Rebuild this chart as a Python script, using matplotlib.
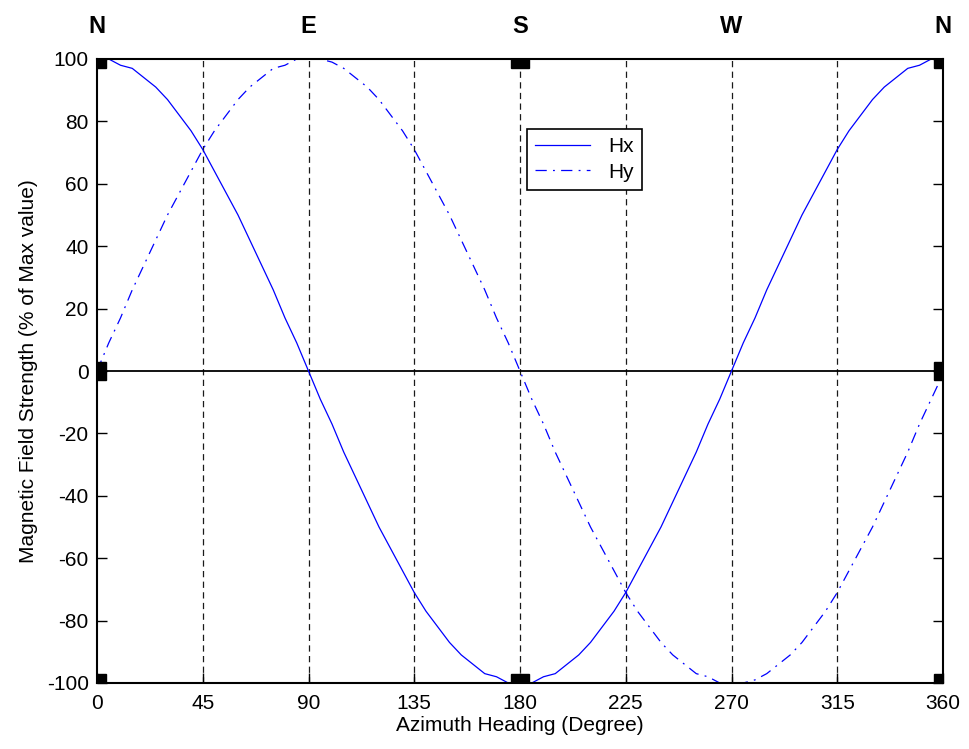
import matplotlib
matplotlib.use("Agg")
import matplotlib.pyplot as plt

# ---------------- data ----------------
azimuth = [0, 5, 10, 15, 20, 25, 30, 35, 40, 45, 50, 55, 60, 65, 70, 75, 80, 85, 90,
           95, 100, 105, 110, 115, 120, 125, 130, 135, 140, 145, 150, 155, 160, 165, 170, 175, 180,
           185, 190, 195, 200, 205, 210, 215, 220, 225, 230, 235, 240, 245, 250, 255, 260, 265, 270,
           275, 280, 285, 290, 295, 300, 305, 310, 315, 320, 325, 330, 335, 340, 345, 350, 355, 360]
hx = [100, 100, 98, 97, 94, 91, 87, 82, 77, 71, 64, 57, 50, 42, 34, 26, 17, 9, 0,
      -9, -17, -26, -34, -42, -50, -57, -64, -71, -77, -82, -87, -91, -94, -97, -98, -100, -100,
      -100, -98, -97, -94, -91, -87, -82, -77, -71, -64, -57, -50, -42, -34, -26, -17, -9, 0,
      9, 17, 26, 34, 42, 50, 57, 64, 71, 77, 82, 87, 91, 94, 97, 98, 100, 100]
hy = [0, 9, 17, 26, 34, 42, 50, 57, 64, 71, 77, 82, 87, 91, 94, 97, 98, 100, 100,
      100, 99, 97, 94, 91, 87, 82, 77, 71, 64, 57, 50, 42, 34, 26, 17, 9, 0,
      -9, -17, -26, -34, -42, -50, -57, -64, -71, -77, -82, -87, -91, -94, -97, -98, -100, -100,
      -100, -99, -97, -94, -91, -87, -82, -77, -71, -64, -57, -50, -42, -34, -26, -17, -9, -1]
series_names = ["Hx", "Hy"]
grid_x = [45, 90, 135, 180, 225, 270, 315]
xticks = [0, 45, 90, 135, 180, 225, 270, 315, 360]
yticks = [-100, -80, -60, -40, -20, 0, 20, 40, 60, 80, 100]
dir_pos = [0, 90, 180, 270, 360]
dir_labels = ["N", "E", "S", "W", "N"]
marker_x = [0, 0, 0, 180, 180, 360, 360, 360]
marker_y = [100, 0, -100, 100, -100, 100, 0, -100]
xlabel = "Azimuth Heading (Degree)"
ylabel = "Magnetic Field Strength (% of Max value)"

# ---------------- figure ----------------
plt.rcParams['font.family'] = ['Liberation Sans', 'DejaVu Sans']
plt.rcParams['axes.unicode_minus'] = False
fig = plt.figure(figsize=(9.69, 7.49), dpi=100)
ax = fig.add_axes([97/969, 1-683/749, (943-97)/969, (683-59)/749])

blue = (0, 0, 1)
for gx in grid_x:
    ax.axvline(gx, color='#1a1a1a', lw=0.9, ls=(0, (5, 3.5)), zorder=1)
ax.axhline(0, color='black', lw=1.3, zorder=1)

ax.plot(azimuth, hx, color=blue, lw=0.9, ls='-', label=series_names[0], zorder=3)
ax.plot(azimuth, hy, color=blue, lw=0.9, ls=(0, (9, 5, 1.5, 5)), label=series_names[1], zorder=3)

ax.plot(marker_x, marker_y, ls='none', marker='s', ms=13, color='black', clip_on=True, zorder=4)

ax.set_xlim(0, 360)
ax.set_ylim(-100, 100)
ax.set_xticks(xticks)
ax.set_yticks(yticks)
ax.tick_params(axis='both', direction='in', length=7, width=1.0, labelsize=15,
               top=False, right=True, colors='black')
ax.tick_params(axis='x', pad=8)
ax.tick_params(axis='y', pad=6)
for s in ax.spines.values():
    s.set_linewidth(1.5)
    s.set_color('black')
    s.set_zorder(5)

ax.set_xlabel(xlabel, fontsize=15, labelpad=2)
ax.set_ylabel(ylabel, fontsize=15, labelpad=6)

sec = ax.secondary_xaxis('top')
sec.set_xticks(dir_pos)
sec.set_xticklabels(dir_labels, fontsize=17, fontweight='bold')
sec.tick_params(length=0, pad=15)
sec.spines['top'].set_visible(False)

leg = ax.legend(loc='upper left', bbox_to_anchor=((527-97)/846, 1-(129-59)/624),
                fontsize=15, frameon=True, fancybox=False, framealpha=1,
                edgecolor='black', borderpad=0.4, handlelength=2.6, handletextpad=0.9,
                labelspacing=0.3, borderaxespad=0)
leg.get_frame().set_linewidth(1.2)

fig.savefig("out.png", dpi=100)
